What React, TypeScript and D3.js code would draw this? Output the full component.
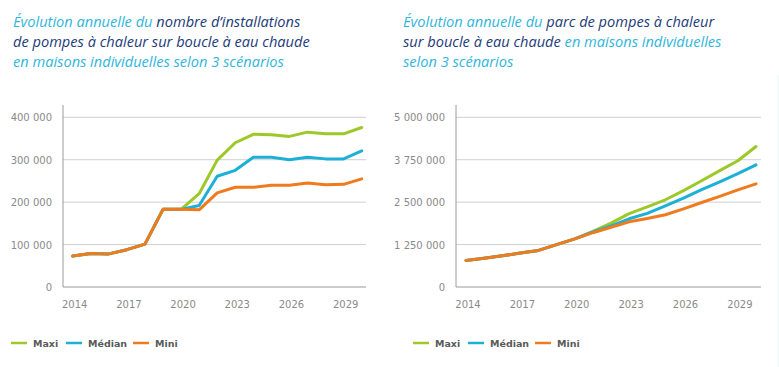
import React from "react";
import * as d3 from "d3";

const years = d3.range(2014, 2031);
const xTicks = [2014, 2017, 2020, 2023, 2026, 2029];

// Left chart: annual installations
const instMini = [73000, 79000, 78000, 88000, 101000, 183000, 183000, 182000, 222000, 235000, 235000, 240000, 240000, 245000, 241000, 242000, 255000];
const instMedian = [73000, 79000, 78000, 88000, 101000, 183000, 183000, 192000, 261000, 275000, 306000, 306000, 300000, 306000, 302000, 302000, 321000];
const instMaxi = [73000, 79000, 78000, 88000, 101000, 183000, 183000, 220000, 299000, 340000, 360000, 359000, 355000, 365000, 361000, 361000, 376000];
const instTicks = [0, 100000, 200000, 300000, 400000];

// Right chart: installed base
const parcMini = [784000, 850000, 920000, 1000000, 1078000, 1250000, 1420000, 1600000, 1760000, 1920000, 2020000, 2130000, 2300000, 2490000, 2670000, 2860000, 3040000];
const parcMedian = [784000, 850000, 920000, 1000000, 1078000, 1250000, 1420000, 1620000, 1800000, 2010000, 2170000, 2390000, 2620000, 2870000, 3100000, 3340000, 3600000];
const parcMaxi = [784000, 850000, 920000, 1000000, 1078000, 1250000, 1420000, 1640000, 1880000, 2160000, 2360000, 2570000, 2840000, 3130000, 3430000, 3720000, 4140000];
const parcTicks = [0, 1250000, 2500000, 3750000, 5000000];

const seriesNames = ["Maxi", "Médian", "Mini"];
const colors = ["#9dc82a", "#1db0d6", "#f07a1e"];

const LIGHT = "#2fb6dc";
const DARK = "#1d3b7a";

const fmt = (v: number) => d3.format(",")(v).replace(/,/g, " ");

type Part = { t: string; c: string };

function Title({ x, lines }: { x: number; lines: Part[][] }) {
  return (
    <text x={x} fontFamily="'Open Sans', sans-serif" fontStyle="italic" fontSize={14.6} fontWeight={400}>
      {lines.map((ln, i) => (
        <tspan key={i} x={x} y={27 + i * 20}>
          {ln.map((p, j) => (
            <tspan key={j} fill={p.c}>{p.t}</tspan>
          ))}
        </tspan>
      ))}
    </text>
  );
}

function Chart({
  axisX, rightX, x0, x1, max, ticks, data, legendX,
}: {
  axisX: number; rightX: number; x0: number; x1: number; max: number; ticks: number[];
  data: number[][]; legendX: number[];
}) {
  const top = 117.3, bottom = 287;
  const x = d3.scaleLinear().domain([2014, 2030]).range([x0, x1]);
  const y = d3.scaleLinear().domain([0, max]).range([bottom, top]);
  const line = d3.line<number>().x((_, i) => x(years[i])).y((d) => y(d));
  return (
    <g>
      {ticks.map((t) => (
        <g key={t}>
          {t > 0 && <line x1={axisX} x2={rightX} y1={y(t)} y2={y(t)} stroke="#cfcfcf" strokeWidth={1} />}
          <text x={axisX - 11} y={y(t) + 4} textAnchor="end" fontFamily="'DejaVu Sans', sans-serif" fontSize={10} fill="#8a8a8a">{fmt(t)}</text>
        </g>
      ))}
      <line x1={axisX} x2={axisX} y1={105} y2={bottom} stroke="#9a9a9a" strokeWidth={1} />
      <line x1={axisX} x2={rightX} y1={bottom} y2={bottom} stroke="#9a9a9a" strokeWidth={1.2} />
      {xTicks.map((t) => (
        <text key={t} x={x(t) + 2} y={308} textAnchor="middle" fontFamily="'DejaVu Sans', sans-serif" fontSize={10} fill="#8a8a8a">{t}</text>
      ))}
      {data.map((d, i) => (
        <path key={i} d={line(d) || ""} fill="none" stroke={colors[i]} strokeWidth={3} strokeLinejoin="round" strokeLinecap="round" />
      ))}
      {seriesNames.map((n, i) => (
        <g key={n}>
          <line x1={legendX[i]} x2={legendX[i] + 16} y1={343} y2={343} stroke={colors[i]} strokeWidth={2.5} />
          <text x={legendX[i] + 22} y={346.5} fontFamily="'DejaVu Sans', sans-serif" fontSize={9.5} fontWeight="bold" fill="#5a5a5a">{n}</text>
        </g>
      ))}
    </g>
  );
}

export default function App() {
  return (
    <svg width={779} height={367} style={{ position: "absolute", left: 0, top: 0, background: "#fff" }}>
      <rect width={779} height={367} fill="#fff" />
      <Title x={13} lines={[
        [{ t: "Évolution annuelle du ", c: LIGHT }, { t: "nombre d’installations", c: DARK }],
        [{ t: "de pompes à chaleur sur boucle à eau chaude", c: DARK }],
        [{ t: "en maisons individuelles selon 3 scénarios", c: LIGHT }],
      ]} />
      <Title x={403} lines={[
        [{ t: "Évolution annuelle du ", c: LIGHT }, { t: "parc de pompes à chaleur", c: DARK }],
        [{ t: "sur boucle à eau chaude ", c: DARK }, { t: "en maisons individuelles", c: LIGHT }],
        [{ t: "selon 3 scénarios", c: LIGHT }],
      ]} />
      <Chart axisX={63} rightX={366} x0={72.7} x1={361.7} max={400000} ticks={instTicks}
        data={[instMaxi, instMedian, instMini]} legendX={[11, 66, 133]} />
      <Chart axisX={456} rightX={761} x0={466} x1={756} max={5000000} ticks={parcTicks}
        data={[parcMaxi, parcMedian, parcMini]} legendX={[413, 468, 535]} />
      <line x1={778} x2={778} y1={75} y2={367} stroke="#e6f6fa" strokeWidth={1} />
    </svg>
  );
}
